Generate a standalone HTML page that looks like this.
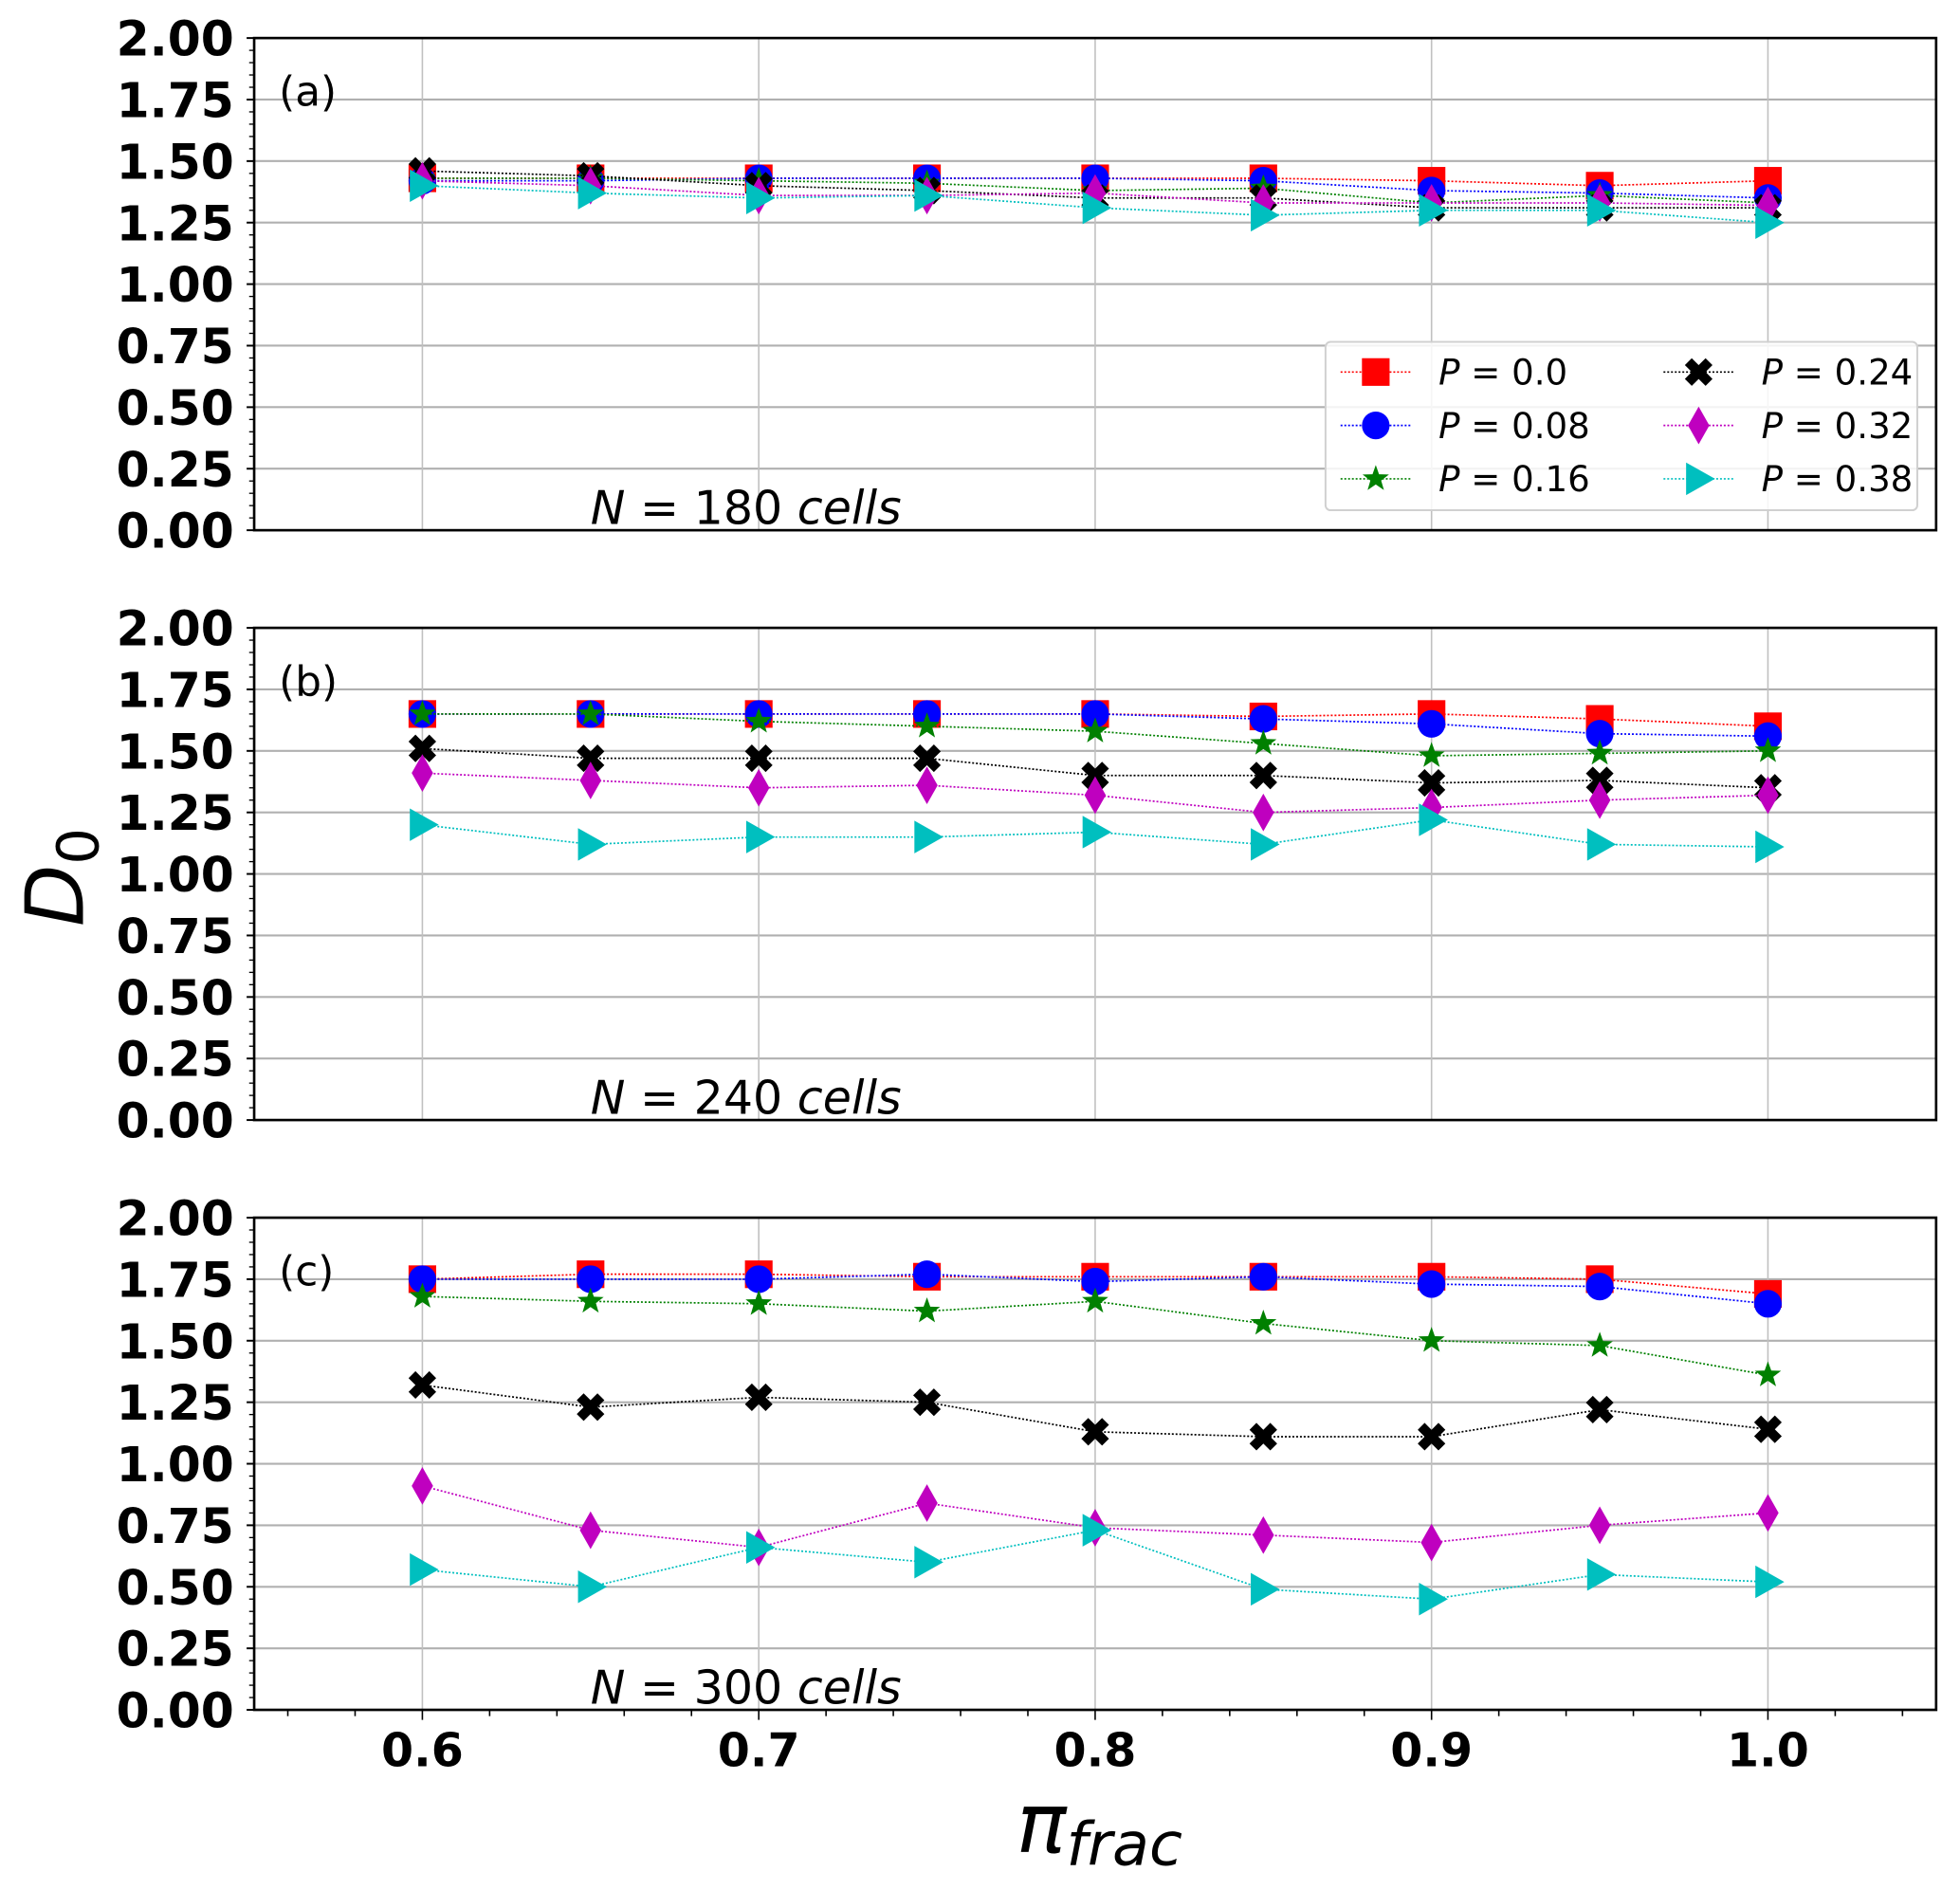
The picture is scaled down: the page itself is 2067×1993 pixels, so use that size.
<!DOCTYPE html>
<html><head><meta charset="utf-8"><style>
html,body{margin:0;padding:0;background:#fff;}
svg{display:block;font-family:"DejaVu Sans","Liberation Sans",sans-serif;}
</style></head><body>
<svg id="chart" width="2067" height="1993" viewBox="0 0 1560 1504" xmlns="http://www.w3.org/2000/svg"></svg>
<script>
const xVals = [0.6,0.65,0.7,0.75,0.8,0.85,0.9,0.95,1.0];
const xTicks = [0.6,0.7,0.8,0.9,1.0];
const xTickLabels = ["0.6","0.7","0.8","0.9","1.0"];
const yTicks = [0,0.25,0.5,0.75,1.0,1.25,1.5,1.75,2.0];
const yTickLabels = ["0.00","0.25","0.50","0.75","1.00","1.25","1.50","1.75","2.00"];
const seriesLabels = ["P = 0.0","P = 0.08","P = 0.16","P = 0.24","P = 0.32","P = 0.38"];
const panelLabels = ["(a)","(b)","(c)"];
const panelN = ["180","240","300"];
const a_P000 = [1.43,1.43,1.43,1.43,1.43,1.43,1.42,1.40,1.42];
const a_P008 = [1.42,1.42,1.43,1.43,1.43,1.42,1.38,1.37,1.35];
const a_P016 = [1.43,1.43,1.42,1.41,1.38,1.39,1.33,1.36,1.33];
const a_P024 = [1.46,1.44,1.40,1.38,1.35,1.35,1.31,1.31,1.31];
const a_P032 = [1.42,1.40,1.36,1.36,1.37,1.33,1.33,1.33,1.32];
const a_P038 = [1.40,1.37,1.35,1.36,1.31,1.28,1.30,1.30,1.25];
const b_P000 = [1.65,1.65,1.65,1.65,1.65,1.64,1.65,1.63,1.60];
const b_P008 = [1.65,1.65,1.65,1.65,1.65,1.63,1.61,1.57,1.56];
const b_P016 = [1.65,1.65,1.62,1.60,1.58,1.53,1.48,1.49,1.50];
const b_P024 = [1.51,1.47,1.47,1.47,1.40,1.40,1.37,1.38,1.35];
const b_P032 = [1.41,1.38,1.35,1.36,1.32,1.25,1.27,1.30,1.32];
const b_P038 = [1.20,1.12,1.15,1.15,1.17,1.12,1.22,1.12,1.11];
const c_P000 = [1.75,1.77,1.77,1.76,1.76,1.76,1.76,1.75,1.69];
const c_P008 = [1.75,1.75,1.75,1.77,1.74,1.76,1.73,1.72,1.65];
const c_P016 = [1.68,1.66,1.65,1.62,1.66,1.57,1.50,1.48,1.36];
const c_P024 = [1.32,1.23,1.27,1.25,1.13,1.11,1.11,1.22,1.14];
const c_P032 = [0.91,0.73,0.66,0.84,0.74,0.71,0.68,0.75,0.80];
const c_P038 = [0.57,0.50,0.66,0.60,0.73,0.49,0.45,0.55,0.52];

const panels = [[a_P000,a_P008,a_P016,a_P024,a_P032,a_P038],
                [b_P000,b_P008,b_P016,b_P024,b_P032,b_P038],
                [c_P000,c_P008,c_P016,c_P024,c_P032,c_P038]];
const colors = ["#ff0000","#0000ff","#008000","#000000","#bf00bf","#00bfbf"];
const markers = ["square","circle","star","x","diamond","tri"];
const NS = "http://www.w3.org/2000/svg";
const svg = document.getElementById("chart");
const L = 202.3, R = 1541, tops = [30.2,499.6,969], H = 391.7;
const X0 = 0.55, X1 = 1.05;
function xs(v){ return L + (v - X0) / (X1 - X0) * (R - L); }
function ys(v, p){ return tops[p] + H - v / 2 * H; }
function el(tag, attrs, parent){ const e = document.createElementNS(NS, tag); for (const k in attrs) e.setAttribute(k, attrs[k]); (parent||svg).appendChild(e); return e; }
function marker(type, cx, cy, color, g){
  const s = 11; let e;
  if (type==="square") e = el("rect",{x:cx-s,y:cy-s,width:2*s,height:2*s,fill:color},g);
  else if (type==="circle") e = el("circle",{cx:cx,cy:cy,r:s,fill:color},g);
  else if (type==="diamond") e = el("polygon",{points:`${cx},${cy-15} ${cx+8.5},${cy} ${cx},${cy+15} ${cx-8.5},${cy}`,fill:color},g);
  else if (type==="tri") e = el("polygon",{points:`${cx-10},${cy-13} ${cx+13},${cy} ${cx-10},${cy+13}`,fill:color},g);
  else if (type==="x") { const a=11,b=5.5; e = el("path",{d:`M${cx-a},${cy-a+b} L${cx-a+b},${cy-a} L${cx},${cy-b} L${cx+a-b},${cy-a} L${cx+a},${cy-a+b} L${cx+b},${cy} L${cx+a},${cy+a-b} L${cx+a-b},${cy+a} L${cx},${cy+b} L${cx-a+b},${cy+a} L${cx-a},${cy+a-b} L${cx-b},${cy} Z`,fill:color},g); }
  else { let pts=[]; for(let i=0;i<10;i++){const r=i%2?4.5:11; const a=-Math.PI/2+i*Math.PI/5; pts.push((cx+r*Math.cos(a)).toFixed(1)+","+(cy+r*Math.sin(a)).toFixed(1));} e = el("polygon",{points:pts.join(" "),fill:color},g); }
  return e;
}
for (let p=0;p<3;p++){
  const g = el("g",{});
  
  
  const top = tops[p], bot = top + H;
  yTicks.forEach((t,i)=>{
    const gl = el("line",{x1:L,x2:R,y1:ys(t,p),y2:ys(t,p),stroke:"#b0b0b0","stroke-width":1.6},g);
    
    
    el("line",{x1:L-6,x2:L,y1:ys(t,p),y2:ys(t,p),stroke:"#000","stroke-width":1.5},g);
    const tl = el("text",{x:L-16,y:ys(t,p)+14,"text-anchor":"end","font-size":38,"font-weight":"bold"},g);
    tl.textContent = yTickLabels[i];
    
    
  });
  for (let m=0;m<=40;m++){ if(m%5) el("line",{x1:L-4,x2:L,y1:ys(m*0.05,p),y2:ys(m*0.05,p),stroke:"#000","stroke-width":1},g); }
  xTicks.forEach(t=>{
    const gl = el("line",{x1:xs(t),x2:xs(t),y1:top,y2:bot,stroke:"#c0c0c0","stroke-width":1.2},g);
    
    
  });
  if (p===2){
    for (let m=28;m<=52;m++){ const v=m*0.02; const len = (m%5===0)?8:5; el("line",{x1:xs(v),x2:xs(v),y1:bot,y2:bot+len,stroke:"#000","stroke-width":1.2},g); }
    xTicks.forEach((t,i)=>{
      const tl = el("text",{x:xs(t),y:bot+45,"text-anchor":"middle","font-size":37,"font-weight":"bold"},g);
      tl.textContent = xTickLabels[i];
      
      
    });
  }
  const ser = panels[p];
  ser.forEach((vals,s)=>{
    const sg = el("g",{},g);
    
    
    const pts = vals.map((v,i)=>xs(xVals[i]).toFixed(1)+","+ys(v,p).toFixed(1)).join(" ");
    el("polyline",{points:pts,fill:"none",stroke:colors[s],"stroke-width":1.3,"stroke-dasharray":"1.5 1.5"},sg);
    vals.forEach((v,i)=>{
      const mk = marker(markers[s], xs(xVals[i]), ys(v,p), colors[s], sg);
      
      
    });
  });
  el("rect",{x:L,y:top,width:R-L,height:H,fill:"none",stroke:"#000","stroke-width":2},g);
  const pl = el("text",{x:222,y:top+54,"font-size":33},g);
  pl.textContent = panelLabels[p];
  
  
  const nl = el("text",{x:470,y:bot-5,"font-size":37},g);
  nl.innerHTML = '<tspan font-style="italic">N</tspan> = ' + panelN[p] + ' <tspan font-style="italic">cells</tspan>';
  
  
}
// legend
const lg = el("g",{});


el("rect",{x:1055,y:272,width:471,height:134,rx:4,fill:"#fff","fill-opacity":0.85,stroke:"#d0d0d0","stroke-width":1.5},lg);
seriesLabels.forEach((lab,s)=>{
  const col = Math.floor(s/3), row = s%3;
  const mx = col? 1352:1095, ty = 296 + row*42.5;
  const e = el("g",{},lg);
  
  
  el("line",{x1:mx-28,x2:mx+28,y1:ty,y2:ty,stroke:colors[s],"stroke-width":1.3,"stroke-dasharray":"1.5 1.5"},e);
  marker(markers[s], mx, ty, colors[s], e);
  const t = el("text",{x:mx+50,y:ty+10,"font-size":28},e);
  t.innerHTML = '<tspan font-style="italic">P</tspan> = ' + lab.split("= ")[1];
});
const yl = el("text",{x:66,y:698,"font-size":64,"font-style":"italic",transform:"rotate(-90 66 698)","text-anchor":"middle"});
yl.innerHTML = 'D<tspan font-size="46" dy="12" font-style="normal">0</tspan>';


const xl = el("text",{x:875,y:1474,"font-size":66,"font-style":"italic","text-anchor":"middle"});
xl.innerHTML = 'π<tspan font-size="48" dy="10">frac</tspan>';


</script>
</body></html>
